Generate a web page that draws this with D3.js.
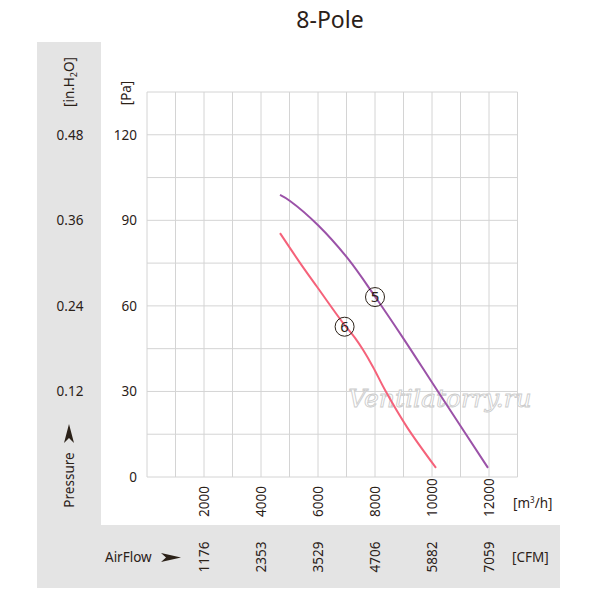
<!DOCTYPE html>
<html><head><meta charset="utf-8">
<script src="https://cdn.jsdelivr.net/npm/d3@7"></script>
<style>body{margin:0;background:#fff}svg{display:block;font-family:"Noto Sans",sans-serif}</style>
</head><body>
<svg id="c" width="600" height="600"></svg>
<script>
// ---- data ----
const title = "8-Pole";
const flowTicks = [2000, 4000, 6000, 8000, 10000, 12000];
const cfmLabels = ["1176", "2353", "3529", "4706", "5882", "7059"];
const paTicks = [0, 30, 60, 90, 120];
const inH2OLabels = ["", "0.12", "0.24", "0.36", "0.48"];
const curve5Flow = [4667, 5018, 6012, 7064, 8000, 8982, 10175, 11965];
const curve5Pa   = [98.9, 96.8, 88.2, 76.4, 63.3, 48.8, 30.5, 3.2];
const curve6Flow = [4667, 5368, 5965, 6877, 7298, 7579, 7930, 8351, 9123, 10140];
const curve6Pa   = [85.5, 75.1, 66.7, 54.0, 48.8, 44.6, 38.6, 30.5, 17.5, 3.2];
const curveNames = ["5", "6"];
const labelFlow = [8000, 6933];
const labelPa = [63.1, 52.7];

// ---- layout ----
const svg = d3.select("#c");
const txt = "#2b2118";
const x = d3.scaleLinear().domain([0, 13000]).range([147, 517.5]);
const y = d3.scaleLinear().domain([0, 135]).range([477, 92]);

// grey L-shaped panel
svg.append("path").attr("d", "M37,42H101V525H560V588H37Z").attr("fill", "#e4e4e4");

// title
svg.append("text").attr("x", 330).attr("y", 28).attr("text-anchor", "middle")
  .attr("font-size", 23).attr("fill", txt).text(title);

// grid
const g = svg.append("g");
g.selectAll("line.v").data(d3.range(0, 13001, 1000)).join("line")
  .attr("x1", d => x(d)).attr("x2", d => x(d)).attr("y1", y(0)).attr("y2", y(135))
  .attr("stroke", "#d4d4d4").attr("stroke-width", 1);
g.selectAll("line.h").data(d3.range(0, 136, 15)).join("line")
  .attr("y1", d => y(d)).attr("y2", d => y(d)).attr("x1", x(0)).attr("x2", x(13000))
  .attr("stroke", "#d4d4d4").attr("stroke-width", 1);

// watermark
svg.append("text").attr("x", 440).attr("y", 407).attr("text-anchor", "middle")
  .attr("font-family", "DejaVu Serif, serif").attr("font-style", "italic")
  .attr("font-size", 25).attr("fill", "#ffffff").attr("stroke", "#cccccc").attr("stroke-width", 0.9)
  .text("Ventilatorry.ru");

// y labels
svg.selectAll("text.pa").data(paTicks).join("text")
  .attr("x", 137).attr("y", d => y(d)).attr("dy", "0.35em").attr("text-anchor", "end")
  .attr("font-size", 13.5).attr("fill", txt).text(d => d);
svg.selectAll("text.inh").data(paTicks).join("text")
  .attr("x", 70).attr("y", d => y(d)).attr("dy", "0.35em").attr("text-anchor", "middle")
  .attr("font-size", 13.5).attr("fill", txt).text((d, i) => inH2OLabels[i]);

// unit labels rotated
const inh = svg.append("text").attr("transform", "translate(74,82) rotate(-90)")
  .attr("text-anchor", "middle").attr("font-size", 13.5).attr("fill", txt);
inh.append("tspan").text("[in.H");
inh.append("tspan").attr("font-size", 9).attr("dy", 3).text("2");
inh.append("tspan").attr("dy", -3).text("O]");
svg.append("text").attr("transform", "translate(131,93) rotate(-90)")
  .attr("text-anchor", "middle").attr("font-size", 13.5).attr("fill", txt).text("[Pa]");
svg.append("text").attr("transform", "translate(74,480) rotate(-90)")
  .attr("text-anchor", "middle").attr("font-size", 13.5).attr("fill", txt).text("Pressure");
svg.append("path").attr("d", "M69,424L74,443L69,438L64,443Z").attr("fill", txt);

// x labels
svg.selectAll("text.fx").data(flowTicks).join("text")
  .attr("transform", d => `translate(${x(d) + 5},517) rotate(-90)`)
  .attr("text-anchor", "start").attr("font-size", 13.5).attr("fill", txt).text(d => d);
svg.selectAll("text.cfm").data(flowTicks).join("text")
  .attr("transform", d => `translate(${x(d) + 5},557) rotate(-90)`)
  .attr("text-anchor", "middle").attr("font-size", 13.5).attr("fill", txt).text((d, i) => cfmLabels[i]);

const m3 = svg.append("text").attr("x", 513).attr("y", 508).attr("font-size", 13.5).attr("fill", txt);
m3.append("tspan").text("[m");
m3.append("tspan").attr("font-size", 8).attr("dy", -5).text("3");
m3.append("tspan").attr("dy", 5).text("/h]");
svg.append("text").attr("x", 512).attr("y", 562).attr("font-size", 13.5).attr("fill", txt).text("[CFM]");
svg.append("text").attr("x", 105).attr("y", 562).attr("font-size", 13.5).attr("fill", txt).text("AirFlow");
svg.append("path").attr("d", "M181,557.5L161,553L166,557.5L161,562Z").attr("fill", txt);

// curves
const line = d3.line().x(d => x(d[0])).y(d => y(d[1])).curve(d3.curveCatmullRom.alpha(0.5));
const series = [
  {pts: d3.zip(curve5Flow, curve5Pa), color: "#9b52a8"},
  {pts: d3.zip(curve6Flow, curve6Pa), color: "#f5627a"}
];
svg.selectAll("path.curve").data(series).join("path")
  .attr("d", d => line(d.pts)).attr("fill", "none")
  .attr("stroke", d => d.color).attr("stroke-width", 2);

// circled labels
const lab = svg.selectAll("g.lab").data(curveNames).join("g")
  .attr("transform", (d, i) => `translate(${x(labelFlow[i])},${y(labelPa[i])})`);
lab.append("circle").attr("r", 9.5).attr("fill", "none").attr("stroke", txt).attr("stroke-width", 1);
lab.append("text").attr("text-anchor", "middle").attr("dy", "0.36em")
  .attr("font-size", 15).attr("fill", txt).text(d => d);
</script>
</body></html>
